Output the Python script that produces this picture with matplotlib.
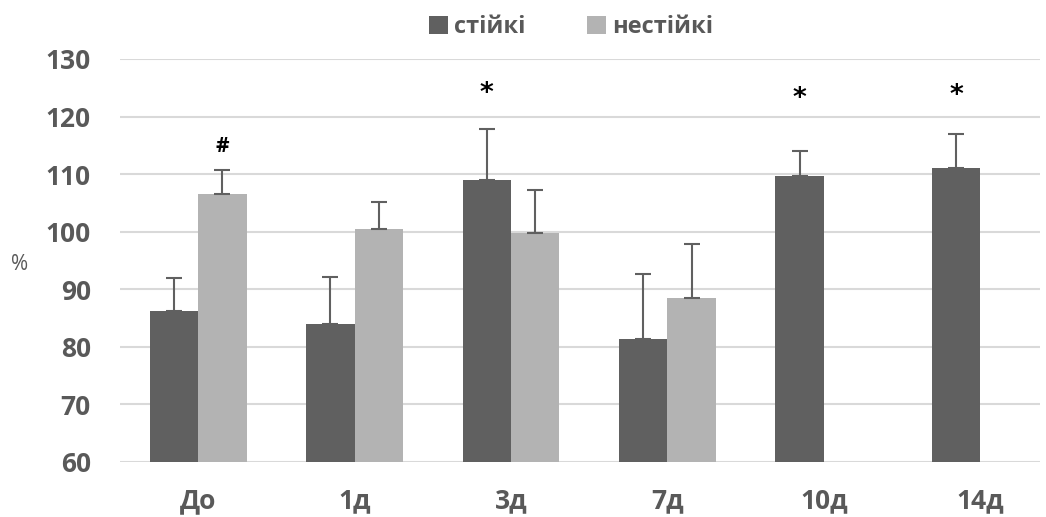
import matplotlib
matplotlib.use("Agg")
import matplotlib.pyplot as plt
import numpy as np

categories = ["До", "1д", "3д", "7д", "10д", "14д"]
stable = [86.3, 83.9, 109.0, 81.4, 109.7, 111.0]
stable_err = [5.7, 8.3, 8.8, 11.2, 4.4, 6.0]
unstable = [106.5, 100.4, 99.7, 88.5, np.nan, np.nan]
unstable_err = [4.3, 4.8, 7.6, 9.4, np.nan, np.nan]
series_names = ["стійкі", "нестійкі"]
yticks = [60, 70, 80, 90, 100, 110, 120, 130]

marks = [("#", 1, 0, 114.8), ("*", 0, 2, 123.9), ("*", 0, 4, 123.1), ("*", 0, 5, 123.5)]

dark = "#606060"
light = "#b3b3b3"
txt = "#595959"

plt.rcParams['font.family'] = ['Open Sans', 'DejaVu Sans']

fig = plt.figure(figsize=(10.46, 5.17), dpi=100)
W, H = 1046, 517
left, right = 120, 1040
top, bottom = 59, 462
ax = fig.add_axes([left / W, 1 - bottom / H, (right - left) / W, (bottom - top) / H])

x = np.arange(len(categories))
bw = 0.31
step = 156.4
ax.set_xlim(-0.5, -0.5 + (right - left) / step)
ax.set_ylim(60, 130)

ax.bar(x - bw / 2, np.array(stable) - 60, bw, bottom=60, color=dark, label=series_names[0], zorder=3)
ax.bar(x + bw / 2, np.array(unstable) - 60, bw, bottom=60, color=light, label=series_names[1], zorder=3)
ax.errorbar(x - bw / 2, stable, yerr=[np.zeros(len(stable)), stable_err], fmt="none",
            ecolor=dark, elinewidth=1.5, capsize=6, capthick=1.5, zorder=4)
ax.errorbar(x + bw / 2, unstable, yerr=[np.zeros(len(unstable)), unstable_err], fmt="none",
            ecolor=dark, elinewidth=1.5, capsize=6, capthick=1.5, zorder=4)

for sym, s, i, yv in marks:
    xo = x[i] + (bw / 2 if s == 1 else -bw / 2)
    if sym == "*":
        ax.text(xo, yv, sym, ha="center", va="center", fontsize=19, fontweight="bold",
                family="DejaVu Sans", color="black", zorder=5)
    else:
        ax.text(xo, yv, sym, ha="center", va="center", fontsize=15, fontweight="bold",
                color="black", zorder=5)

ax.set_yticks(yticks)
ax.set_xticks(x)
ax.set_xticklabels(categories)
ax.yaxis.grid(True, color="#d9d9d9", linewidth=1.5, zorder=0)
ax.set_axisbelow(True)
for sp in ax.spines.values():
    sp.set_visible(False)
ax.tick_params(axis="both", length=0, labelsize=19, labelcolor=txt)
ax.tick_params(axis="y", pad=21)
ax.tick_params(axis="x", pad=18)
for lab in ax.get_xticklabels() + ax.get_yticklabels():
    lab.set_fontweight("bold")

fig.text(20 / W, 1 - 265 / H, "%", ha="center", va="center", fontsize=15, color=txt)

leg = fig.legend(loc="center", bbox_to_anchor=(571 / W, 1 - 27 / H), ncol=2, frameon=False,
                 prop={"weight": "bold", "size": 17}, labelcolor=txt, handlelength=0.8,
                 handleheight=0.8, handletextpad=0.25, columnspacing=2.6)

fig.savefig("out.png", dpi=100)
